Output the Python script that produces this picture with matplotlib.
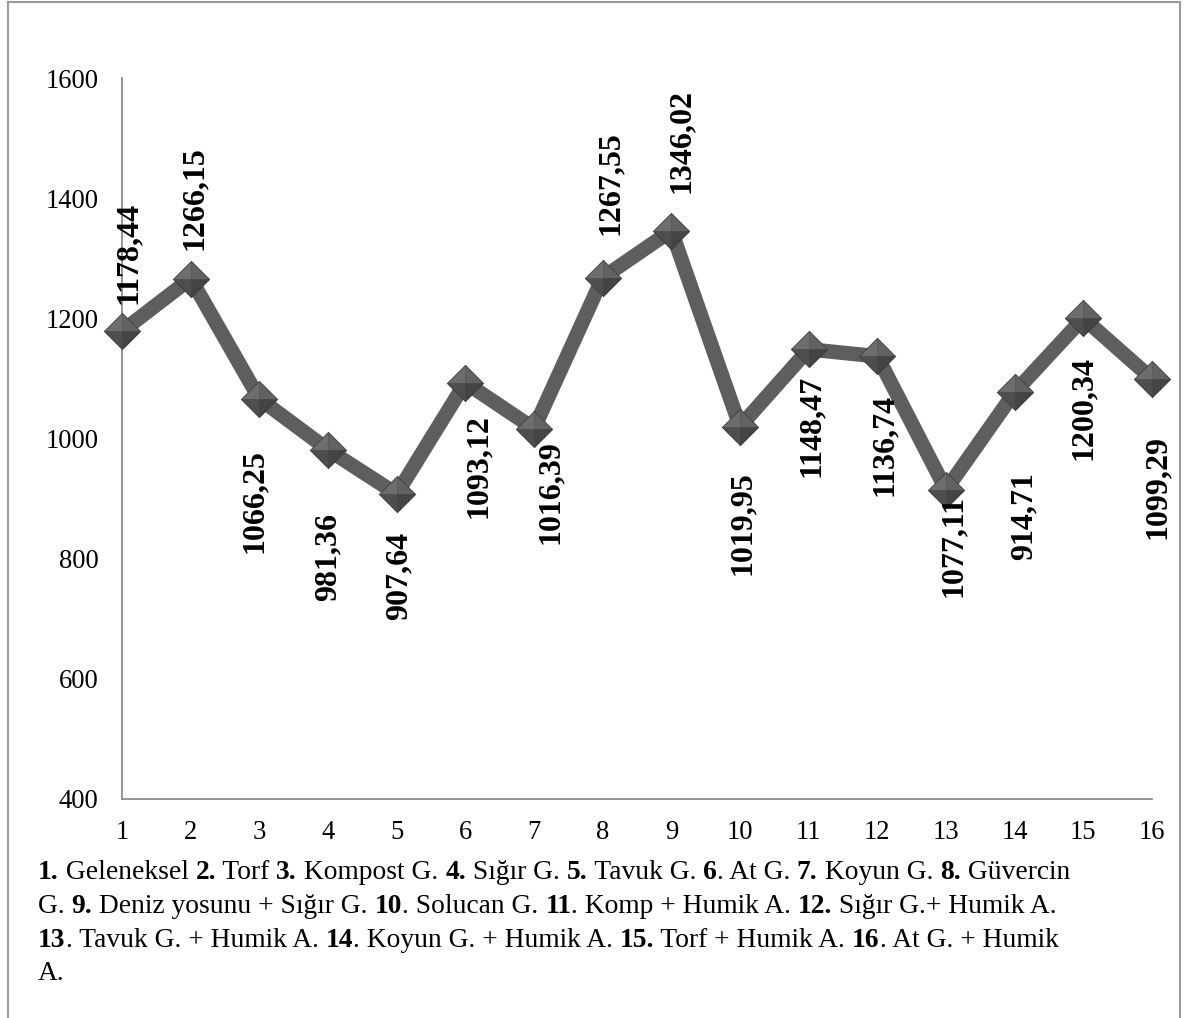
import matplotlib
matplotlib.use("Agg")
import matplotlib.pyplot as plt
from matplotlib.path import Path
from matplotlib.lines import Line2D
from matplotlib.font_manager import FontProperties

# --- data -------------------------------------------------------------
treatments = list(range(1, 17))
values = [1178.44, 1266.15, 1066.25, 981.36, 907.64, 1093.12, 1016.39, 1267.55,
          1346.02, 1019.95, 1148.47, 1136.74, 914.71, 1077.11, 1200.34, 1099.29]
value_labels = ["1178,44", "1266,15", "1066,25", "981,36", "907,64", "1093,12",
                "1016,39", "1267,55", "1346,02", "1019,95", "1148,47", "1136,74",
                "1077,11", "914,71", "1200,34", "1099,29"]
y_ticks = [400, 600, 800, 1000, 1200, 1400, 1600]

# label placement: (dx px, distance px from point, above?)
label_place = [(6, 27, True), (4, 29, True), (-5, 50, False), (0, 63, False),
               (2, 38, False), (13, 32, False), (16, 11, False), (8, 43, True),
               (10, 38, True), (2, 45, False), (3, 26, False), (7, 38, False),
               (7, 5, False), (9, 80, False), (0, 38, False), (5, 56, False)]

caption_lines = [
    [("1.", True), (" Geleneksel ", False), ("2.", True), (" Torf ", False),
     ("3.", True), (" Kompost G. ", False), ("4.", True), (" Sığır G. ", False),
     ("5.", True), (" Tavuk G. ", False), ("6", True), (". At G. ", False),
     ("7.", True), (" Koyun G. ", False), ("8.", True), (" Güvercin", False)],
    [("G. ", False), ("9.", True), (" Deniz yosunu + Sığır G. ", False),
     ("10", True), (". Solucan G. ", False), ("11", True),
     (". Komp + Humik A. ", False), ("12.", True), (" Sığır G.+ Humik A.", False)],
    [("13", True), (". Tavuk G. + Humik A. ", False), ("14", True),
     (". Koyun G. + Humik A. ", False), ("15.", True), (" Torf + Humik A. ", False),
     ("16", True), (". At G. + Humik", False)],
    [("A.", False)],
]

# --- figure -----------------------------------------------------------
W, H = 1185, 1018
fig = plt.figure(figsize=(W / 100, H / 100), dpi=100)
fig.patch.set_facecolor("white")
serif = "Liberation Serif"

ax = fig.add_axes([122 / W, 219 / H, 1030 / W, 721 / H])
ax.set_xlim(1, 16)
ax.set_ylim(400, 1600)
for s in ("top", "right"):
    ax.spines[s].set_visible(False)
for s in ("left", "bottom"):
    ax.spines[s].set_color("#8c8c8c")
    ax.spines[s].set_linewidth(1.3)
ax.set_xticks(treatments)
ax.set_yticks(y_ticks)
ax.tick_params(length=0, labelsize=19.2, pad=15)
ax.tick_params(axis="y", pad=17)
for lab in ax.get_xticklabels() + ax.get_yticklabels():
    lab.set_fontfamily(serif)

# thick connecting line
ax.plot(treatments, values, color="#5e5e5e", lw=10.5, solid_joinstyle="miter",
        clip_on=False, zorder=3)

# bevelled diamond markers (four facets)
facets = [
    ([(0, 0), (-1, 0), (0, 1), (0, 0)], "#6d6d6d"),
    ([(0, 0), (0, 1), (1, 0), (0, 0)], "#626262"),
    ([(0, 0), (1, 0), (0, -1), (0, 0)], "#444444"),
    ([(0, 0), (0, -1), (-1, 0), (0, 0)], "#4e4e4e"),
]
ax.plot(treatments, values, ls="none", marker=Path([(-1, 0), (0, 1), (1, 0), (0, -1), (-1, 0)]),
        ms=27, mfc="#3a3a3a", mec="none", clip_on=False, zorder=4)
for verts, col in facets:
    ax.plot(treatments, values, ls="none", marker=Path(verts), ms=25.5,
            mfc=col, mec="none", clip_on=False, zorder=5)

# value labels
for x, v, txt, (dx, dist, above) in zip(treatments, values, value_labels, label_place):
    ax.annotate(txt, xy=(x, v), xytext=(dx, dist if above else -dist),
                textcoords="offset pixels", rotation=90,
                ha="center", va="bottom" if above else "top",
                fontsize=23, fontweight="bold", family=serif, color="black",
                zorder=6, annotation_clip=False)

# outer frame
frame_kw = dict(color="#9a9a9a", lw=1.5, transform=None)
fig.add_artist(Line2D([8, 8], [0, H - 2], **frame_kw))
fig.add_artist(Line2D([8, 1180], [H - 2, H - 2], **frame_kw))
fig.add_artist(Line2D([1180, 1180], [0, H - 2], **frame_kw))

# caption with bold item numbers
renderer = fig.canvas.get_renderer()
fs_cap = 19.8
fp_reg = FontProperties(family=serif, size=fs_cap)
fp_bold = FontProperties(family=serif, size=fs_cap, weight="bold")


def run_width(s, fp):
    w1 = renderer.get_text_width_height_descent("x" + s + "x", fp, ismath=False)[0]
    w0 = renderer.get_text_width_height_descent("xx", fp, ismath=False)[0]
    return w1 - w0


baselines = [879, 913, 947, 980]
for runs, yb in zip(caption_lines, baselines):
    x = 38
    for s, bold in runs:
        fp = fp_bold if bold else fp_reg
        fig.text(x / W, 1 - yb / H, s, fontproperties=fp, va="baseline", ha="left")
        x += run_width(s, fp)

fig.savefig("out.png", dpi=100, facecolor="white")
